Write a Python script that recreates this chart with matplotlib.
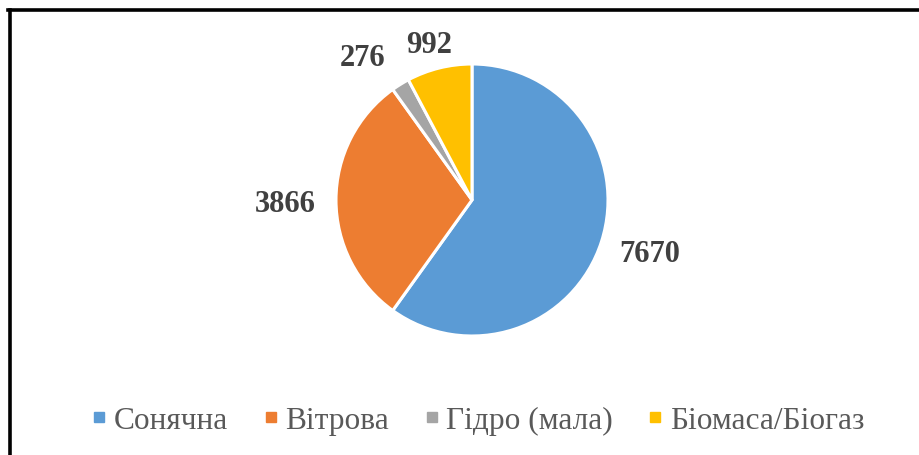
import numpy as np
import matplotlib
matplotlib.use("Agg")
import matplotlib.pyplot as plt
from matplotlib.lines import Line2D

categories = ["Сонячна", "Вітрова", "Гідро (мала)", "Біомаса/Біогаз"]
values = [7670, 3866, 276, 992]
colors = ["#5B9BD5", "#ED7D31", "#A5A5A5", "#FFC000"]

plt.rcParams['font.family'] = ['Liberation Serif', 'DejaVu Serif']

W, H = 920, 456
fig = plt.figure(figsize=(W / 100, H / 100), dpi=100)

cx, cy, r = 472, 201, 136
ax = fig.add_axes([(cx - r) / W, (H - cy - r) / H, 2 * r / W, 2 * r / H])
wedges, _ = ax.pie(values, colors=colors, startangle=90, counterclock=False,
                   wedgeprops=dict(edgecolor="white", linewidth=2.2))
ax.set_xlim(-1, 1)
ax.set_ylim(-1, 1)
ax.set_aspect('auto')
ax.axis('off')

# data labels, Excel "outside end" style
fig.canvas.draw()
renderer = fig.canvas.get_renderer()
texts = []
for w, v in zip(wedges, values):
    th = np.deg2rad((w.theta1 + w.theta2) / 2)
    t = ax.text(0, 0, str(v), ha='center', va='center', fontsize=22,
                fontweight='bold', color='#404040')
    bb = t.get_window_extent(renderer)
    hw = bb.width / 2 / r
    hh = bb.height / 2 / r
    d = 1.148
    x = np.cos(th) * d + np.cos(th) * hw
    y = np.sin(th) * d + np.sin(th) * hh * 0.55 - 0.025
    t.set_position((x, y))
    texts.append([t, x, y, hw, hh])

# resolve crowded labels by shifting the left one further left
gap = 0.15
for i in range(len(texts)):
    for j in range(i + 1, len(texts)):
        a, b = texts[i], texts[j]
        need = a[3] + b[3] + gap
        if abs(a[2] - b[2]) < a[4] + b[4] and abs(a[1] - b[1]) < need:
            left, right = (a, b) if a[1] < b[1] else (b, a)
            left[1] = right[1] - need
            left[2] += 0.045
            left[0].set_position((left[1], left[2]))

handles = [Line2D([0], [0], marker='s', linestyle='none', markersize=7.6,
                  markerfacecolor=c, markeredgecolor=c) for c in colors]
fig.legend(handles, categories, loc='center', bbox_to_anchor=(478 / W, (H - 421) / H),
           ncol=4, frameon=False, fontsize=22.6, handlelength=0.5, handletextpad=0.22,
           columnspacing=1.1, labelcolor='#595959', borderaxespad=0, borderpad=0)

# partial border (top and left)
fig.add_artist(Line2D([8 / W, 1], [1 - 11 / H, 1 - 11 / H], transform=fig.transFigure,
                      color='black', linewidth=2.6, solid_capstyle='projecting'))
fig.add_artist(Line2D([10 / W, 10 / W], [1 - 11 / H, 0], transform=fig.transFigure,
                      color='black', linewidth=2.6, solid_capstyle='projecting'))

fig.savefig("out.png", dpi=100, facecolor='white')
